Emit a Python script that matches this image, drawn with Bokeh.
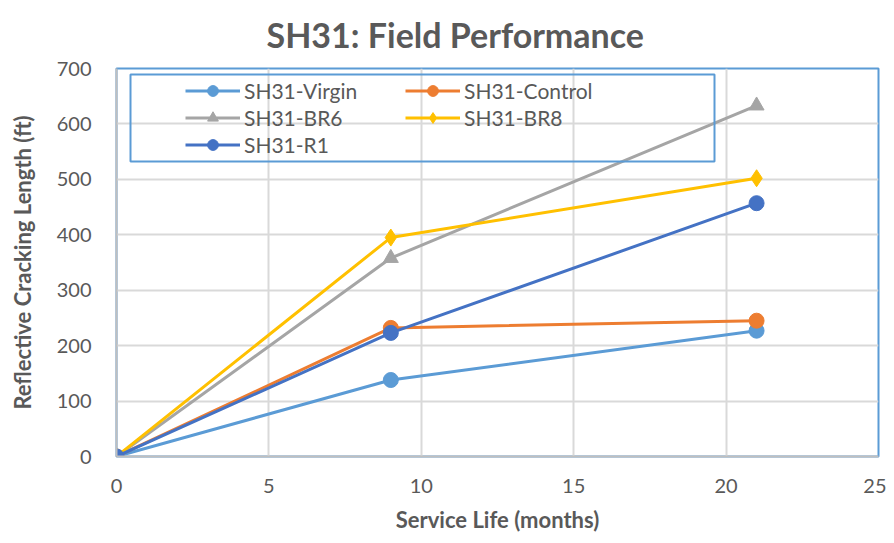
from bokeh.plotting import figure
from bokeh.models import FixedTicker, Legend, LegendItem, BoxAnnotation
from bokeh.embed import file_html
from bokeh.resources import INLINE

# ---- data ----
months = [0, 9, 21]
virgin = [0, 138, 227]
control = [0, 232, 245]
br6 = [0, 358, 633]
br8 = [0, 395, 502]
r1 = [0, 223, 457]

series_names = ["SH31-Virgin", "SH31-Control", "SH31-BR6", "SH31-BR8", "SH31-R1"]
x_ticks = [0, 5, 10, 15, 20, 25]
y_ticks = [0, 100, 200, 300, 400, 500, 600, 700]
title_text = "SH31: Field Performance"

FONT = "Lato"
GRAY_TXT = "#595959"

p = figure(width=886, height=535, x_range=(0, 25), y_range=(0, 700),
           output_backend="svg", toolbar_location=None,
           min_border_left=116, min_border_right=8,
           min_border_top=68, min_border_bottom=77)

p.title.text = title_text
p.title.align = "left"
p.title.offset = 150
p.title.standoff = 24
p.title.vertical_align = "top"
p.title.text_font = FONT
p.title.text_font_size = "34px"
p.title.text_font_style = "bold"
p.title.text_color = GRAY_TXT

p.outline_line_color = "#5B9BD5"
p.outline_line_width = 2
p.background_fill_color = "white"
p.border_fill_color = "white"

for ax in (p.xaxis[0], p.yaxis[0]):
    ax.major_tick_line_color = None
    ax.minor_tick_line_color = None
    ax.major_tick_in = 0
    ax.major_tick_out = 0
    ax.minor_tick_in = 0
    ax.minor_tick_out = 0
    ax.axis_line_color = "#BFBFBF"
    ax.axis_line_width = 2
    ax.major_label_text_font = FONT
    ax.major_label_text_font_size = "20px"
    ax.major_label_text_color = GRAY_TXT
    ax.axis_label_text_font = FONT
    ax.axis_label_text_font_size = "22px"
    ax.axis_label_text_font_style = "bold"
    ax.axis_label_text_color = GRAY_TXT

p.xaxis.ticker = FixedTicker(ticks=x_ticks)
p.yaxis.ticker = FixedTicker(ticks=y_ticks)
p.xaxis.axis_label = "Service Life (months)"
p.yaxis.axis_label = "Reflective Cracking Length (ft)"
p.xaxis.major_label_standoff = 22
p.yaxis.major_label_standoff = 25
p.xaxis.axis_label_standoff = 10
p.yaxis.axis_label_standoff = 18

p.xgrid.grid_line_color = "#D9D9D9"
p.ygrid.grid_line_color = "#D9D9D9"
p.xgrid.grid_line_width = 2
p.ygrid.grid_line_width = 2

colors = ["#5B9BD5", "#ED7D31", "#A5A5A5", "#FFC000", "#4472C4"]
markers = ["circle", "circle", "triangle", "diamond", "circle"]
sizes = [15, 15, 15, 17, 15]
data = [virgin, control, br6, br8, r1]

items = {}
for name, ys, c, m, s in zip(series_names, data, colors, markers, sizes):
    ln = p.line(months, ys, line_color=c, line_width=3)
    sc = p.scatter(months, ys, marker=m, size=s, fill_color=c, line_color=c)
    items[name] = LegendItem(label=name, renderers=[ln, sc])

# column-major order so rows read: Virgin/Control, BR6/BR8, R1
order = ["SH31-Virgin", "SH31-BR6", "SH31-R1", "SH31-Control", "SH31-BR8"]
legend = Legend(items=[items[n] for n in order], ncols=2, location=(66, 295),
                label_text_font=FONT, label_text_font_size="21px",
                label_text_color=GRAY_TXT,
                glyph_width=55, glyph_height=27, label_height=27,
                label_width=161, label_standoff=4,
                spacing=0, padding=3, margin=0,
                border_line_alpha=0, background_fill_alpha=0)
p.add_layout(legend, "center")

box = BoxAnnotation(left=14, right=598, top=382, bottom=295,
                    left_units="screen", right_units="screen",
                    top_units="screen", bottom_units="screen",
                    fill_alpha=0, line_color="#5B9BD5", line_alpha=1,
                    line_width=2)
p.add_layout(box)

open("out.html", "w").write(file_html(p, INLINE))
